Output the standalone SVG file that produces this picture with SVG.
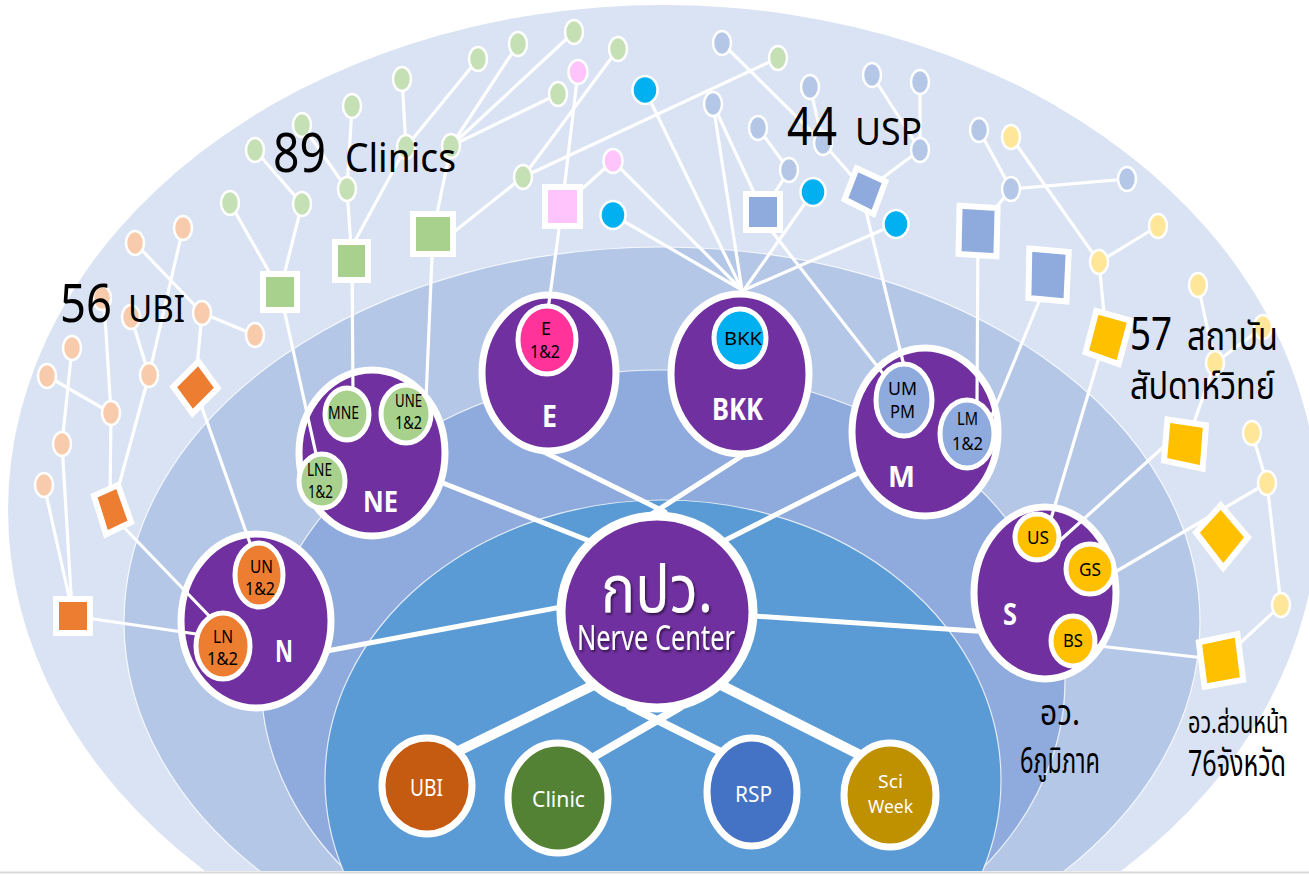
<svg xmlns="http://www.w3.org/2000/svg" width="1309" height="875" viewBox="0 0 1309 875">
<style>
.t{font-family:"Noto Sans","Noto Sans Thai","Open Sans","DejaVu Sans",sans-serif}
.ln{stroke:#fff;stroke-width:3.2;stroke-linecap:round;fill:none}
.tr{stroke:#fff;stroke-width:5;stroke-linecap:round}
.tk{stroke:#fff;stroke-linecap:round}
.reg{fill:#7030a0;stroke:#fff;stroke-width:7}
.sub{stroke:#fff;stroke-width:5}
.dot{stroke:#fff;stroke-width:2.5}
.sq{stroke:#fff;stroke-width:6;stroke-linejoin:miter}
.bgl{stroke:#fff;stroke-width:1.2;stroke-opacity:.8}
.pe{fill:#f8cbad}.gr{fill:#c5e0b4}.pi{fill:#ffc4fb}.cy{fill:#00b0f0}.lb{fill:#b4c7e7}.ye{fill:#ffe699}
.og{fill:#ed7d31}.gg{fill:#a9d18e}.pk{fill:#ff3399}.mb{fill:#8faadc}.gd{fill:#ffc000}
.sl{font-size:18px;fill:#000}
.rl{font-weight:bold;fill:#fff}
.wl{fill:#fff}
.bk{fill:#000}
</style>
<defs>
<clipPath id="clip"><rect x="0" y="0" width="1309" height="871"/></clipPath>
<filter id="sh" x="-10%" y="-20%" width="120%" height="140%"><feDropShadow dx="1.5" dy="2" stdDeviation="1" flood-color="#000" flood-opacity="0.55"/></filter>
</defs>
<rect x="0" y="0" width="1309" height="875" fill="#fff"/>
<g id="background" clip-path="url(#clip)">
<ellipse cx="663" cy="510" rx="655" ry="505" fill="#dae3f3"/>
<ellipse class="bgl" cx="662" cy="622" rx="538" ry="375" fill="#b4c7e7"/>
<ellipse class="bgl" cx="663" cy="680" rx="402" ry="310" fill="#8faadc"/>
<ellipse class="bgl" cx="663" cy="780" rx="338" ry="280" fill="#5b9bd5"/>
</g>
<line x1="0" y1="872.5" x2="1309" y2="872.5" stroke="#d9d9d9" stroke-width="2"/>

<g id="connectors-trunk">
<line class="tr" x1="300" y1="656" x2="620" y2="596"/>
<line class="tr" x1="420" y1="474" x2="620" y2="553"/>
<line class="tr" x1="540" y1="450" x2="665" y2="512"/>
<line class="tr" x1="745" y1="454" x2="650" y2="515"/>
<line class="tr" x1="870" y1="467" x2="700" y2="553"/>
<line class="tr" x1="740" y1="615" x2="990" y2="632"/>
<line class="tk" stroke-width="10" x1="600" y1="682" x2="440" y2="760"/>
<line class="tk" stroke-width="8" x1="680" y1="707" x2="585" y2="762"/>
<line class="tk" stroke-width="8" x1="630" y1="706.5" x2="738" y2="760.5"/>
<line class="tk" stroke-width="10" x1="715" y1="682" x2="880" y2="765"/>
</g>

<g id="node-N"><ellipse class="reg" cx="256" cy="621" rx="75" ry="87"/><text class="t rl" x="275" y="662" font-size="30" textLength="18" lengthAdjust="spacingAndGlyphs">N</text></g>
<g id="node-NE"><ellipse class="reg" cx="372" cy="453" rx="73" ry="83"/><text class="t rl" x="363" y="512" font-size="28" textLength="35" lengthAdjust="spacingAndGlyphs">NE</text></g>
<g id="node-E"><ellipse class="reg" cx="549" cy="373" rx="67" ry="78"/><text class="t rl" x="542" y="427" font-size="30" textLength="15" lengthAdjust="spacingAndGlyphs">E</text></g>
<g id="node-BKK"><ellipse class="reg" cx="740" cy="374" rx="69" ry="80"/><text class="t rl" x="712" y="420" font-size="30" textLength="51" lengthAdjust="spacingAndGlyphs">BKK</text></g>
<g id="node-M"><ellipse class="reg" cx="925" cy="432" rx="73" ry="84"/><text class="t rl" x="888" y="487" font-size="28" textLength="27" lengthAdjust="spacingAndGlyphs">M</text></g>
<g id="node-S"><ellipse class="reg" cx="1045" cy="593" rx="71" ry="86"/><text class="t rl" x="1003" y="625" font-size="30" textLength="14" lengthAdjust="spacingAndGlyphs">S</text></g>
<g id="node-center"><circle cx="657" cy="612" r="96" fill="#7030a0" stroke="#fff" stroke-width="9"/>
<g filter="url(#sh)"><text class="t wl" x="601" y="612" font-size="66" textLength="112" lengthAdjust="spacingAndGlyphs">กปว.</text>
<text class="t wl" x="577" y="650" font-size="35" textLength="158" lengthAdjust="spacingAndGlyphs">Nerve Center</text></g></g>
<g id="node-UBI"><ellipse cx="427" cy="786" rx="45" ry="48" fill="#c55a11" stroke="#fff" stroke-width="7"/><text class="t wl" x="410" y="796" font-size="24" textLength="33" lengthAdjust="spacingAndGlyphs">UBI</text></g>
<g id="node-Clinic"><ellipse cx="558" cy="798" rx="50" ry="55" fill="#548235" stroke="#fff" stroke-width="7"/><text class="t wl" x="532" y="807" font-size="22" textLength="53" lengthAdjust="spacingAndGlyphs">Clinic</text></g>
<g id="node-RSP"><ellipse cx="752" cy="792" rx="45" ry="54" fill="#4472c4" stroke="#fff" stroke-width="7"/><text class="t wl" x="735" y="802" font-size="22" textLength="37" lengthAdjust="spacingAndGlyphs">RSP</text></g>
<g id="node-SciWeek"><ellipse cx="890" cy="795" rx="46" ry="52" fill="#bf9000" stroke="#fff" stroke-width="7"/><text class="t wl" x="878" y="788" font-size="18" textLength="25" lengthAdjust="spacingAndGlyphs">Sci</text><text class="t wl" x="868" y="813" font-size="18" textLength="45" lengthAdjust="spacingAndGlyphs">Week</text></g>

<g id="connectors">
<line class="ln" x1="135" y1="243" x2="202" y2="313"/>
<line class="ln" x1="183" y1="228" x2="149" y2="375"/>
<line class="ln" x1="131" y1="317" x2="149" y2="375"/>
<line class="ln" x1="149" y1="375" x2="112" y2="511"/>
<line class="ln" x1="104" y1="300" x2="111" y2="413"/>
<line class="ln" x1="111" y1="413" x2="110" y2="500"/>
<line class="ln" x1="47" y1="376" x2="111" y2="413"/>
<line class="ln" x1="72" y1="348" x2="62" y2="444"/>
<line class="ln" x1="62" y1="444" x2="72" y2="610"/>
<line class="ln" x1="44" y1="485" x2="72" y2="610"/>
<line class="ln" x1="202" y1="313" x2="195" y2="388"/>
<line class="ln" x1="255" y1="335" x2="202" y2="313"/>
<line class="ln" x1="195" y1="388" x2="256" y2="560"/>
<line class="ln" x1="112" y1="515" x2="215" y2="622"/>
<line class="ln" x1="73" y1="616" x2="210" y2="636"/>
<line class="ln" x1="255" y1="150" x2="302" y2="204"/>
<line class="ln" x1="302" y1="125" x2="347" y2="189"/>
<line class="ln" x1="352" y1="106" x2="347" y2="189"/>
<line class="ln" x1="347" y1="189" x2="352" y2="261"/>
<line class="ln" x1="230" y1="203" x2="280" y2="291"/>
<line class="ln" x1="302" y1="204" x2="280" y2="291"/>
<line class="ln" x1="402" y1="79" x2="406" y2="147"/>
<line class="ln" x1="478" y1="59" x2="406" y2="147"/>
<line class="ln" x1="406" y1="147" x2="350" y2="250"/>
<line class="ln" x1="518" y1="44" x2="451" y2="146"/>
<line class="ln" x1="574" y1="32" x2="451" y2="146"/>
<line class="ln" x1="558" y1="94" x2="451" y2="146"/>
<line class="ln" x1="451" y1="146" x2="433" y2="233"/>
<line class="ln" x1="618" y1="49" x2="523" y2="177"/>
<line class="ln" x1="778" y1="58" x2="523" y2="177"/>
<line class="ln" x1="523" y1="177" x2="450" y2="235"/>
<line class="ln" x1="280" y1="291" x2="322" y2="481"/>
<line class="ln" x1="352" y1="261" x2="353" y2="395"/>
<line class="ln" x1="433" y1="233" x2="426" y2="400"/>
<line class="ln" x1="578" y1="72" x2="562" y2="207"/>
<line class="ln" x1="613" y1="161" x2="562" y2="207"/>
<line class="ln" x1="562" y1="207" x2="548" y2="310"/>
<line class="ln" x1="613" y1="161" x2="742" y2="290"/>
<line class="ln" x1="645" y1="90" x2="742" y2="290"/>
<line class="ln" x1="713" y1="104" x2="742" y2="290"/>
<line class="ln" x1="613" y1="215" x2="742" y2="290"/>
<line class="ln" x1="813" y1="192" x2="744" y2="290"/>
<line class="ln" x1="896" y1="224" x2="744" y2="290"/>
<line class="ln" x1="713" y1="104" x2="763" y2="212"/>
<line class="ln" x1="758" y1="128" x2="789" y2="170"/>
<line class="ln" x1="789" y1="170" x2="763" y2="212"/>
<line class="ln" x1="763" y1="220" x2="888" y2="380"/>
<line class="ln" x1="722" y1="43" x2="823" y2="143"/>
<line class="ln" x1="810" y1="87" x2="823" y2="143"/>
<line class="ln" x1="823" y1="143" x2="865" y2="191"/>
<line class="ln" x1="872" y1="75" x2="920" y2="150"/>
<line class="ln" x1="920" y1="82" x2="920" y2="150"/>
<line class="ln" x1="920" y1="150" x2="865" y2="191"/>
<line class="ln" x1="862" y1="195" x2="905" y2="370"/>
<line class="ln" x1="979" y1="130" x2="1011" y2="189"/>
<line class="ln" x1="1127" y1="179" x2="1011" y2="189"/>
<line class="ln" x1="1011" y1="189" x2="978" y2="230"/>
<line class="ln" x1="978" y1="230" x2="977" y2="405"/>
<line class="ln" x1="1050" y1="275" x2="990" y2="420"/>
<line class="ln" x1="1011" y1="137" x2="1099" y2="262"/>
<line class="ln" x1="1158" y1="226" x2="1099" y2="262"/>
<line class="ln" x1="1099" y1="262" x2="1106" y2="334"/>
<line class="ln" x1="1106" y1="334" x2="1050" y2="522"/>
<line class="ln" x1="1198" y1="285" x2="1215" y2="363"/>
<line class="ln" x1="1263" y1="327" x2="1215" y2="363"/>
<line class="ln" x1="1215" y1="363" x2="1186" y2="445"/>
<line class="ln" x1="1180" y1="432" x2="1055" y2="545"/>
<line class="ln" x1="1252" y1="433" x2="1267" y2="483"/>
<line class="ln" x1="1267" y1="483" x2="1110" y2="575"/>
<line class="ln" x1="1267" y1="483" x2="1281" y2="605"/>
<line class="ln" x1="1281" y1="605" x2="1222" y2="660"/>
<line class="ln" x1="1222" y1="660" x2="1090" y2="645"/>
</g>

<g id="node-UN"><ellipse class="sub og" cx="259" cy="575" rx="24" ry="32"/><text class="t sl" x="250" y="573" textLength="23" lengthAdjust="spacingAndGlyphs">UN</text><text class="t sl" x="245" y="595" textLength="30" lengthAdjust="spacingAndGlyphs">1&amp;2</text></g>
<g id="node-LN"><ellipse class="sub og" cx="223" cy="646" rx="27" ry="33"/><text class="t sl" x="213" y="643" textLength="20" lengthAdjust="spacingAndGlyphs">LN</text><text class="t sl" x="207" y="665" textLength="31" lengthAdjust="spacingAndGlyphs">1&amp;2</text></g>
<g id="node-MNE"><ellipse class="sub gg" cx="347" cy="414" rx="22" ry="26"/><text class="t sl" x="328" y="419" font-size="17" textLength="31" lengthAdjust="spacingAndGlyphs">MNE</text></g>
<g id="node-UNE"><ellipse class="sub gg" cx="406" cy="414" rx="25" ry="29"/><text class="t sl" x="395" y="407" font-size="16" textLength="27" lengthAdjust="spacingAndGlyphs">UNE</text><text class="t sl" x="395" y="429" font-size="16" textLength="27" lengthAdjust="spacingAndGlyphs">1&amp;2</text></g>
<g id="node-LNE"><ellipse class="sub gg" cx="322" cy="481" rx="23" ry="27"/><text class="t sl" x="307" y="476" font-size="16" textLength="25" lengthAdjust="spacingAndGlyphs">LNE</text><text class="t sl" x="308" y="498" font-size="16" textLength="25" lengthAdjust="spacingAndGlyphs">1&amp;2</text></g>
<g id="node-E12"><ellipse class="sub pk" cx="547" cy="340" rx="29" ry="34"/><text class="t sl" x="541" y="335" textLength="10" lengthAdjust="spacingAndGlyphs">E</text><text class="t sl" x="530" y="358" textLength="30" lengthAdjust="spacingAndGlyphs">1&amp;2</text></g>
<g id="node-BKKsub"><ellipse class="sub cy" cx="740" cy="338" rx="26" ry="29"/><text class="t sl" x="724" y="345" font-size="22" textLength="38" lengthAdjust="spacingAndGlyphs">BKK</text></g>
<g id="node-UMPM"><ellipse class="sub mb" cx="904" cy="400" rx="28" ry="36"/><text class="t sl" x="888" y="395" textLength="29" lengthAdjust="spacingAndGlyphs">UM</text><text class="t sl" x="890" y="418" textLength="25" lengthAdjust="spacingAndGlyphs">PM</text></g>
<g id="node-LM"><ellipse class="sub mb" cx="967" cy="434" rx="27" ry="34"/><text class="t sl" x="957" y="425" textLength="21" lengthAdjust="spacingAndGlyphs">LM</text><text class="t sl" x="952" y="450" textLength="31" lengthAdjust="spacingAndGlyphs">1&amp;2</text></g>
<g id="node-US"><ellipse class="sub gd" cx="1037" cy="537" rx="22" ry="23"/><text class="t sl" x="1027" y="544" textLength="22" lengthAdjust="spacingAndGlyphs">US</text></g>
<g id="node-GS"><ellipse class="sub gd" cx="1090" cy="569" rx="24" ry="25"/><text class="t sl" x="1079" y="576" textLength="22" lengthAdjust="spacingAndGlyphs">GS</text></g>
<g id="node-BS"><ellipse class="sub gd" cx="1073" cy="641" rx="22" ry="25"/><text class="t sl" x="1063" y="647" font-size="17" textLength="20" lengthAdjust="spacingAndGlyphs">BS</text></g>

<g id="sq-O1"><polygon class="sq og" points="198.5,361.7 217.7,388.1 192.5,413.3 173.3,386.9"/></g>
<g id="sq-O2"><polygon class="sq og" points="94,495.8 118,485 131.2,522.2 106,534.2"/></g>
<g id="sq-O3"><rect class="sq og" x="56" y="599" width="34" height="34"/></g>
<g id="sq-G1"><rect class="sq gg" x="263" y="274" width="34" height="36"/></g>
<g id="sq-G2"><rect class="sq gg" x="335" y="242" width="33" height="38"/></g>
<g id="sq-G3"><rect class="sq gg" x="413" y="214" width="40" height="40"/></g>
<g id="sq-P1"><rect class="sq pi" x="545" y="187" width="35" height="39"/></g>
<g id="sq-B1"><rect class="sq mb" x="746" y="194" width="34" height="36"/></g>
<g id="sq-B2"><polygon class="sq mb" points="856.6,168.3 885.4,181.5 873.4,213.9 844.6,199.5"/></g>
<g id="sq-B3"><polygon class="sq mb" points="959.6,205.7 997.6,208 996.4,256.3 958.5,254"/></g>
<g id="sq-B4"><polygon class="sq mb" points="1029.3,248.5 1068.7,252 1066.4,301.5 1028.4,298"/></g>
<g id="sq-Y1"><polygon class="sq gd" points="1096.3,311 1130.5,320.5 1118.7,364.1 1085.6,352.3"/></g>
<g id="sq-Y2"><polygon class="sq gd" points="1167.5,419.5 1206,425.4 1202.6,468.7 1164,460.5"/></g>
<g id="sq-Y3"><polygon class="sq gd" points="1220.8,505.4 1248,537.2 1223.2,567.9 1196,532.5"/></g>
<g id="sq-Y4"><polygon class="sq gd" points="1198.8,642.3 1237.4,634.1 1243.2,679.8 1204.6,686.8"/></g>

<g id="dot-p1"><ellipse class="dot pe" cx="135" cy="243" rx="9" ry="12"/></g>
<g id="dot-p2"><ellipse class="dot pe" cx="183" cy="228" rx="9" ry="12"/></g>
<g id="dot-p3"><ellipse class="dot pe" cx="102" cy="298" rx="9" ry="12"/></g>
<g id="dot-p4"><ellipse class="dot pe" cx="131" cy="317" rx="9" ry="12"/></g>
<g id="dot-p5"><ellipse class="dot pe" cx="202" cy="313" rx="9" ry="12"/></g>
<g id="dot-p6"><ellipse class="dot pe" cx="255" cy="335" rx="9" ry="12"/></g>
<g id="dot-p7"><ellipse class="dot pe" cx="72" cy="348" rx="9" ry="12"/></g>
<g id="dot-p8"><ellipse class="dot pe" cx="47" cy="376" rx="9" ry="12"/></g>
<g id="dot-p9"><ellipse class="dot pe" cx="149" cy="375" rx="9" ry="12"/></g>
<g id="dot-p10"><ellipse class="dot pe" cx="111" cy="413" rx="9" ry="12"/></g>
<g id="dot-p11"><ellipse class="dot pe" cx="62" cy="444" rx="9" ry="12"/></g>
<g id="dot-p12"><ellipse class="dot pe" cx="44" cy="485" rx="9" ry="12"/></g>

<g id="dot-g1"><ellipse class="dot gr" cx="255" cy="150" rx="9" ry="12"/></g>
<g id="dot-g2"><ellipse class="dot gr" cx="302" cy="125" rx="9" ry="12"/></g>
<g id="dot-g3"><ellipse class="dot gr" cx="352" cy="106" rx="9" ry="12"/></g>
<g id="dot-g4"><ellipse class="dot gr" cx="402" cy="79" rx="9" ry="12"/></g>
<g id="dot-g5"><ellipse class="dot gr" cx="230" cy="203" rx="9" ry="12"/></g>
<g id="dot-g6"><ellipse class="dot gr" cx="302" cy="204" rx="9" ry="12"/></g>
<g id="dot-g7"><ellipse class="dot gr" cx="347" cy="189" rx="9" ry="12"/></g>
<g id="dot-g8"><ellipse class="dot gr" cx="406" cy="147" rx="9" ry="12"/></g>
<g id="dot-g9"><ellipse class="dot gr" cx="478" cy="59" rx="9" ry="12"/></g>
<g id="dot-g10"><ellipse class="dot gr" cx="518" cy="44" rx="9" ry="12"/></g>
<g id="dot-g11"><ellipse class="dot gr" cx="574" cy="32" rx="9" ry="12"/></g>
<g id="dot-g12"><ellipse class="dot gr" cx="618" cy="49" rx="9" ry="12"/></g>
<g id="dot-g13"><ellipse class="dot gr" cx="558" cy="94" rx="9" ry="12"/></g>
<g id="dot-g14"><ellipse class="dot gr" cx="451" cy="146" rx="9" ry="12"/></g>
<g id="dot-g15"><ellipse class="dot gr" cx="523" cy="177" rx="9" ry="12"/></g>
<g id="dot-g16"><ellipse class="dot gr" cx="778" cy="58" rx="9" ry="12"/></g>

<g id="dot-k1"><ellipse class="dot pi" cx="578" cy="72" rx="9.5" ry="12"/></g>
<g id="dot-k2"><ellipse class="dot pi" cx="613" cy="161" rx="9.5" ry="12"/></g>

<g id="dot-c1"><ellipse class="dot cy" cx="645" cy="90" rx="12.5" ry="14"/></g>
<g id="dot-c2"><ellipse class="dot cy" cx="613" cy="215" rx="12.5" ry="14"/></g>
<g id="dot-c3"><ellipse class="dot cy" cx="813" cy="192" rx="12.5" ry="14"/></g>
<g id="dot-c4"><ellipse class="dot cy" cx="896" cy="224" rx="12.5" ry="14"/></g>

<g id="dot-b1"><ellipse class="dot lb" cx="722" cy="43" rx="9" ry="12"/></g>
<g id="dot-b2"><ellipse class="dot lb" cx="713" cy="104" rx="9" ry="12"/></g>
<g id="dot-b3"><ellipse class="dot lb" cx="758" cy="128" rx="9" ry="12"/></g>
<g id="dot-b4"><ellipse class="dot lb" cx="789" cy="170" rx="9" ry="12"/></g>
<g id="dot-b5"><ellipse class="dot lb" cx="810" cy="87" rx="9" ry="12"/></g>
<g id="dot-b6"><ellipse class="dot lb" cx="823" cy="143" rx="9" ry="12"/></g>
<g id="dot-b7"><ellipse class="dot lb" cx="872" cy="75" rx="9" ry="12"/></g>
<g id="dot-b8"><ellipse class="dot lb" cx="920" cy="82" rx="9" ry="12"/></g>
<g id="dot-b9"><ellipse class="dot lb" cx="920" cy="150" rx="9" ry="12"/></g>
<g id="dot-b10"><ellipse class="dot lb" cx="979" cy="130" rx="9" ry="12"/></g>
<g id="dot-b11"><ellipse class="dot lb" cx="1011" cy="189" rx="9" ry="12"/></g>
<g id="dot-b12"><ellipse class="dot lb" cx="1127" cy="179" rx="9" ry="12"/></g>

<g id="dot-y1"><ellipse class="dot ye" cx="1011" cy="137" rx="9" ry="12"/></g>
<g id="dot-y2"><ellipse class="dot ye" cx="1099" cy="262" rx="9" ry="12"/></g>
<g id="dot-y3"><ellipse class="dot ye" cx="1158" cy="226" rx="9" ry="12"/></g>
<g id="dot-y4"><ellipse class="dot ye" cx="1198" cy="285" rx="9" ry="12"/></g>
<g id="dot-y5"><ellipse class="dot ye" cx="1263" cy="327" rx="9" ry="12"/></g>
<g id="dot-y6"><ellipse class="dot ye" cx="1215" cy="363" rx="9" ry="12"/></g>
<g id="dot-y7"><ellipse class="dot ye" cx="1252" cy="433" rx="9" ry="12"/></g>
<g id="dot-y8"><ellipse class="dot ye" cx="1267" cy="483" rx="9" ry="12"/></g>
<g id="dot-y9"><ellipse class="dot ye" cx="1281" cy="605" rx="9" ry="12"/></g>

<g id="labels" class="t bk">
<text x="273" y="172" font-size="54" textLength="53" lengthAdjust="spacingAndGlyphs">89</text>
<text x="345" y="172" font-size="40" textLength="111" lengthAdjust="spacingAndGlyphs">Clinics</text>
<text x="60" y="322" font-size="52" textLength="52" lengthAdjust="spacingAndGlyphs">56</text>
<text x="128" y="322" font-size="38" textLength="57" lengthAdjust="spacingAndGlyphs">UBI</text>
<text x="787" y="145" font-size="52" textLength="50" lengthAdjust="spacingAndGlyphs">44</text>
<text x="855" y="145" font-size="38" textLength="67" lengthAdjust="spacingAndGlyphs">USP</text>
<text x="1130" y="350" font-size="46" textLength="42" lengthAdjust="spacingAndGlyphs">57</text>
<text x="1187" y="350" font-size="40" textLength="91" lengthAdjust="spacingAndGlyphs">สถาบัน</text>
<text x="1130" y="399" font-size="38" textLength="145" lengthAdjust="spacingAndGlyphs">สัปดาห์วิทย์</text>
<text x="1040" y="725" font-size="36" textLength="40" lengthAdjust="spacingAndGlyphs">อว.</text>
<text x="1020" y="773" font-size="36" textLength="80" lengthAdjust="spacingAndGlyphs">6ภูมิภาค</text>
<text transform="translate(1188,733) scale(0.7,1)" x="0" y="0" font-size="30" textLength="143" lengthAdjust="spacingAndGlyphs">อว.ส่วนหน้า</text>
<text transform="translate(1188,776) scale(0.7,1)" x="0" y="0" font-size="37" textLength="140" lengthAdjust="spacingAndGlyphs">76จังหวัด</text>
</g>
</svg>
